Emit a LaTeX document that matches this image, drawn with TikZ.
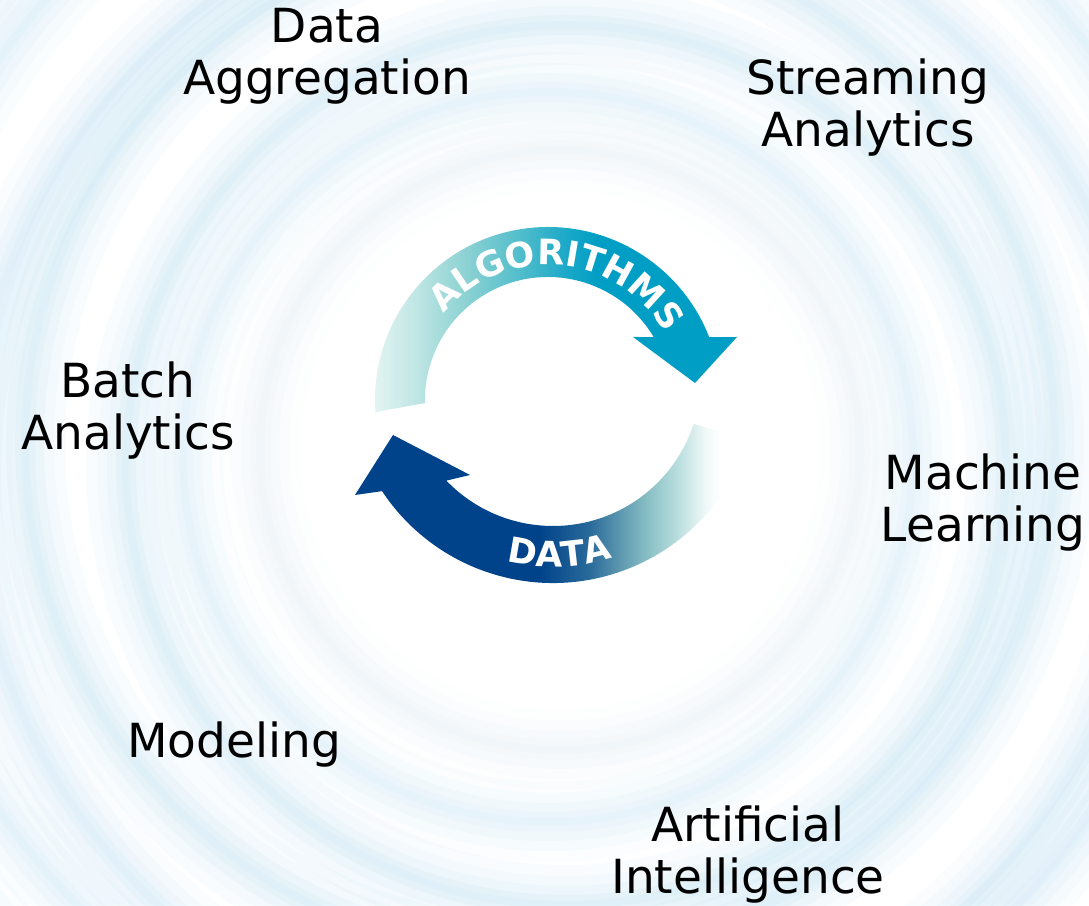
\documentclass[tikz,border=0pt]{standalone}
\usepackage{fontspec}
\setmainfont{DejaVu Sans}
\usetikzlibrary{decorations.text,calc}
\definecolor{algo}{RGB}{0,158,196}
\definecolor{a0}{HTML}{E8F6F4}
\definecolor{a1}{HTML}{C2E7E5}
\definecolor{a2}{HTML}{8DD2D3}
\definecolor{a3}{HTML}{55BFCC}
\definecolor{a4}{HTML}{1AA8C8}
\definecolor{navy}{RGB}{0,67,138}
\definecolor{d1}{HTML}{2B6B9A}
\definecolor{d2}{HTML}{5D98B0}
\definecolor{d3}{HTML}{8CC2C6}
\definecolor{d4}{HTML}{BDE0E0}
\definecolor{d5}{HTML}{EEF8F7}
\definecolor{ringblue}{HTML}{9CD2EE}
\pgfdeclarehorizontalshading{algoshade}{100bp}{color(0bp)=(a0); color(25bp)=(a0); color(31bp)=(a1); color(38bp)=(a2); color(45bp)=(a3); color(52bp)=(a4); color(56bp)=(algo); color(100bp)=(algo)}
\pgfdeclarehorizontalshading{datashade}{100bp}{color(0bp)=(navy); color(48.5bp)=(navy); color(54.9bp)=(d1); color(58.7bp)=(d2); color(62.5bp)=(d3); color(66.3bp)=(d4); color(69.5bp)=(d5); color(71.5bp)=(white); color(100bp)=(white)}
\newcommand{\arcfont}{\fontsize{35}{35}\selectfont\bfseries\color{white}}
\tikzset{
  lbl/.style={font=\fontsize{47}{52}\selectfont, align=center, inner sep=0pt, anchor=base, text=black},
  swirl/.style={draw=ringblue}
}
\begin{document}
\begin{tikzpicture}[x=1pt,y=1pt]
\useasboundingbox (0,0) rectangle (1089,905);
\fill[white] (0,0) rectangle (1089,905);
% background swirl: soft rings
\begin{scope}
\clip (0,0) rectangle (1089,905);
\foreach \cx/\cy/\r/\s in {560/455/300/0.4, 548/448/365/0.75, 566/440/440/1.0, 540/462/515/1.05, 562/430/590/0.95, 548/470/665/0.85, 570/450/745/0.7}{
  \foreach \w/\o in {80/0.05,58/0.06,38/0.07,20/0.08,8/0.07}{
    \draw[swirl, line width=\w pt, opacity=\o*\s] (\cx,\cy) circle[radius=\r];
  }
}
\end{scope}
% ALGORITHMS arrow
\coordinate (ca) at (548,505);
\shade[shading=algoshade] ($(ca)+(184:173)$) arc[start angle=184, end angle=21.3, radius=173]
  -- (737,568) -- (695,522) -- (633,568)
  -- ($(ca)+(30.8:123)$) arc[start angle=30.8, end angle=181.4, radius=123] -- cycle;
\path[decorate, decoration={text along path, text align=center, text={|\arcfont|ALGORITHMS}}]
  ($(ca)+(155:135)$) arc[start angle=155, end angle=15, radius=135];
% DATA arrow
\coordinate (cd) at (553,527);
\shade[shading=datashade] ($(cd)+(-18:205)$) arc[start angle=-18, end angle=-146.5, radius=205]
  -- (355,410) -- (393,470) -- (470,430)
  -- ($(cd)+(-136.1:148)$) arc[start angle=-136.1, end angle=-18, radius=148] -- cycle;
\path[decorate, decoration={text along path, text align=center, text={|\arcfont|DATA}}]
  ($(cd)+(-148:189)$) arc[start angle=-148, end angle=-28, radius=189];
% labels
\node[lbl] (agg) at (327,810) {Data\\Aggregation};
\node[lbl] (stream) at (868,758) {Streaming\\Analytics};
\node[lbl] (batch) at (128,455) {Batch\\Analytics};
\node[lbl] (ml) at (983,363) {Machine\\Learning};
\node[lbl] (model) at (234,148) {Modeling};
\node[lbl] (ai) at (748,12) {Artificial\\Intelligence};
\end{tikzpicture}
\end{document}
